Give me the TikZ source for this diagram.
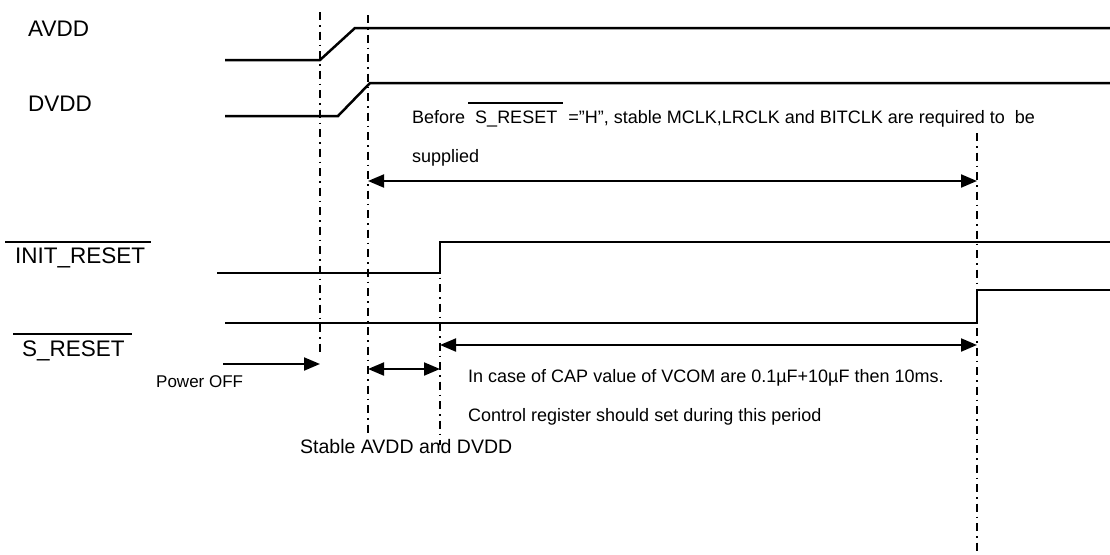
\documentclass[tikz,border=0pt]{standalone}
\usepackage{fontspec}
\setmainfont{Liberation Sans}
\usetikzlibrary{arrows.meta,positioning}

% overbar at a given height above the baseline
\newcommand{\ovl}[2]{\setbox0\hbox{#2}\rlap{\rule[#1]{\wd0}{1.8pt}}\box0}

\begin{document}
\begin{tikzpicture}[x=1pt,y=-1pt,>={Triangle[length=16pt,width=13pt]},
  sig/.style={line width=2.5pt,line join=miter},
  guide/.style={line width=1.5pt,dash pattern=on 8pt off 5pt on 1.5pt off 5pt},
  span/.style={line width=2pt},
  lbl/.style={anchor=base west,inner sep=0pt,font=\fontsize{22.5}{27}\selectfont},
  note/.style={anchor=base west,inner sep=0pt,font=\fontsize{18}{22}\selectfont}]
\useasboundingbox (0,0) rectangle (1110,554);

% signal names
\node[lbl] (avdd_lbl) at (28,36) {AVDD};
\node[lbl] (dvdd_lbl) at (28,111) {DVDD};
\node[lbl] (init_lbl) at (5,263) {\ovl{20pt}{\hspace{10pt}INIT\_RESET\hspace{6pt}}};
\node[lbl] (sres_lbl) at (13,356) {\ovl{21pt}{\hspace{9pt}S\_RESET\hspace{7pt}}};

% guides
\draw[guide] (320,12) -- (320,352);
\draw[guide] (368,15) -- (368,433);
\draw[guide] (440,245) -- (440,445);
\draw[guide] (977,133) -- (977,552);

% waveforms
\draw[sig] (225,60) -- (320,60) -- (355,28) -- (1110,28);
\draw[sig] (225,116) -- (338,116) -- (370,83) -- (1110,83);
\draw[sig] (217,273) -- (440,273) -- (440,242) -- (1110,242);
\draw[sig] (225,323) -- (977,323) -- (977,290) -- (1110,290);

% timing spans
\coordinate (clk_a) at (368,181);
\coordinate (clk_b) at (977,181);
\coordinate (off_a) at (223,364);
\coordinate (off_b) at (320,364);
\coordinate (stb_a) at (368,369);
\coordinate (stb_b) at (440,369);
\coordinate (reg_a) at (440,345);
\coordinate (reg_b) at (977,345);
\draw[span,<->] (clk_a) -- (clk_b);
\draw[span,->] (off_a) -- (off_b);
\draw[span,<->] (stb_a) -- (stb_b);
\draw[span,<->] (reg_a) -- (reg_b);

% notes
\node[note] (clk_txt) at (412,123) {Before\hspace{3pt}\ovl{19pt}{\hspace{7pt}S\_RESET\hspace{6pt}}\hspace{5pt}=''H'', stable MCLK,LRCLK and BITCLK are required to\ \ be};
\node[note] (clk_txt2) at (412,162) {supplied};
\node[note] (reg_txt) at (468,382) {In case of CAP value of VCOM are 0.1µF+10µF then 10ms.};
\node[note] (reg_txt2) at (468,421) {Control register should set during this period};
\node[note,font=\fontsize{17}{20}\selectfont] (off_txt) at (156,387) {Power OFF};
\node[note,font=\fontsize{19.5}{23}\selectfont] (stb_txt) at (300,453) {Stable AVDD and DVDD};
\end{tikzpicture}
\end{document}
